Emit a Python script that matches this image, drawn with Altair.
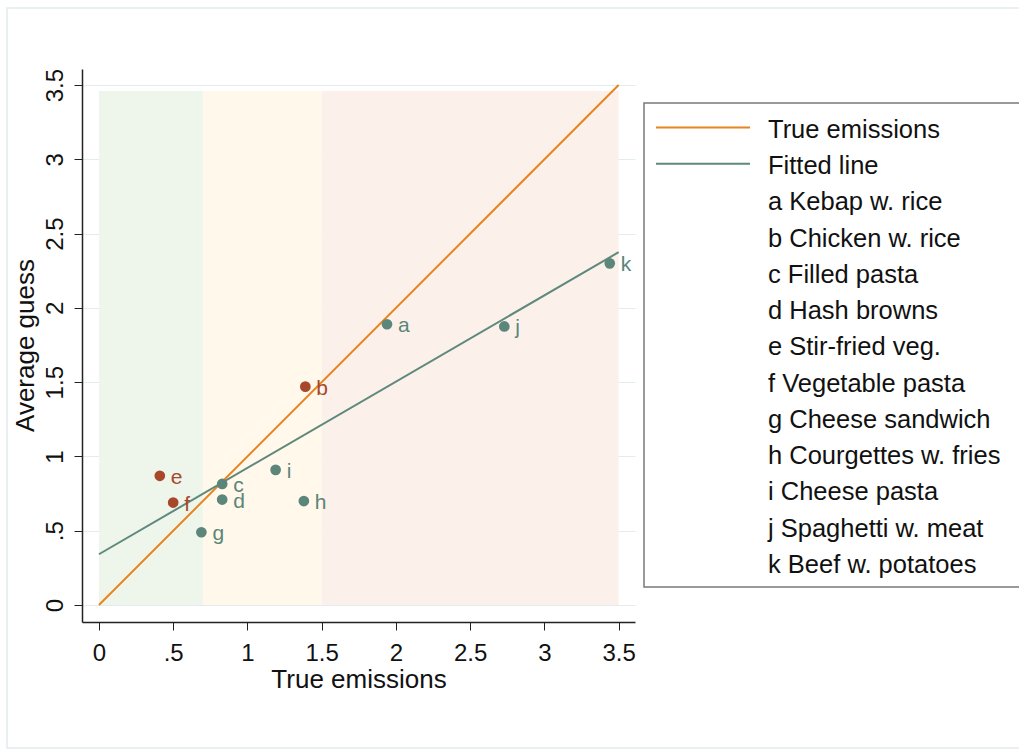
import altair as alt
import pandas as pd

# Dishes: letter code, name, true emissions (x) and average guess (y)
codes = ["a", "b", "c", "d", "e", "f", "g", "h", "i", "j", "k"]
dishes = [
    "Kebap w. rice", "Chicken w. rice", "Filled pasta", "Hash browns",
    "Stir-fried veg.", "Vegetable pasta", "Cheese sandwich",
    "Courgettes w. fries", "Cheese pasta", "Spaghetti w. meat",
    "Beef w. potatoes",
]
true_emissions = [1.94, 1.39, 0.83, 0.83, 0.41, 0.50, 0.69, 1.38, 1.19, 2.73, 3.44]
average_guess = [1.89, 1.47, 0.815, 0.71, 0.87, 0.69, 0.49, 0.70, 0.91, 1.875, 2.30]
overestimated = ["b", "e", "f"]

# Background zones on the emissions axis
zone_names = ["low", "medium", "high"]
zone_start = [0.0, 0.7, 1.5]
zone_end = [0.7, 1.5, 3.5]
zone_top = 3.46
zone_colors = ["#eef5eb", "#fff8eb", "#fbf1ea"]

# Reference line (guess = truth) and fitted regression line endpoints
line_x = [0.0, 3.5]
true_line_y = [0.0, 3.5]
fitted_line_y = [0.342, 2.375]

series_names = ["True emissions", "Fitted line"]
series_colors = ["#e8841e", "#5e897c"]
group_names = ["over", "other"]
group_colors = ["#a8482a", "#5b8679"]

ticks = [0, 0.5, 1, 1.5, 2, 2.5, 3, 3.5]

points = pd.DataFrame({
    "code": codes,
    "emissions": true_emissions,
    "guess": average_guess,
    "group": ["over" if c in overestimated else "other" for c in codes],
})
zones = pd.DataFrame({
    "zone": zone_names, "start": zone_start, "end": zone_end,
    "bottom": [0.0] * 3, "top": [zone_top] * 3,
})
lines = pd.DataFrame({
    "series": [series_names[0]] * 2 + [series_names[1]] * 2,
    "emissions": line_x + line_x,
    "guess": true_line_y + fitted_line_y,
})
legend_labels = series_names + [f"{c} {d}" for c, d in zip(codes, dishes)]
legend_rows = pd.DataFrame({"label": legend_labels, "row": list(range(len(legend_labels)))})
legend_lines = legend_rows.iloc[:2].assign(series=series_names)

FONT = "Liberation Sans"

x_scale = alt.Scale(domain=[-0.114, 3.61], nice=False, zero=False)
y_scale = alt.Scale(domain=[-0.114, 3.608], nice=False, zero=False)
label_expr = "datum.value == 0.5 ? '.5' : datum.label"

x_axis = alt.Axis(
    values=ticks, format="~g", labelExpr=label_expr, title="True emissions",
    grid=False, tickSize=8, labelPadding=11, labelFontSize=24,
    titleFontSize=26, titleBaseline="alphabetic", titleY=65,
)
y_axis = alt.Axis(
    values=ticks, format="~g", labelExpr=label_expr, title="Average guess",
    grid=True, gridColor="#e2ebf0", gridWidth=1,
    tickSize=8, labelPadding=7, labelFontSize=24,
    labelAngle=270, labelAlign="center", labelBaseline="bottom",
    titleFontSize=26, titleAngle=270, titleAlign="center",
    titleBaseline="alphabetic", titleX=-49, titleY=276,
)

X = lambda f: alt.X(f, type="quantitative", scale=x_scale, axis=x_axis)
Y = lambda f: alt.Y(f, type="quantitative", scale=y_scale, axis=y_axis)

zone_layer = alt.Chart(zones).mark_rect(strokeWidth=0).encode(
    x=X("start"), x2="end", y=Y("bottom"), y2="top",
    fill=alt.Fill("zone:N", scale=alt.Scale(domain=zone_names, range=zone_colors), legend=None),
)

line_layer = alt.Chart(lines).mark_line(strokeWidth=2).encode(
    x=X("emissions"), y=Y("guess"),
    stroke=alt.Stroke("series:N", scale=alt.Scale(domain=series_names, range=series_colors), legend=None),
)

point_color = alt.Color("group:N", scale=alt.Scale(domain=group_names, range=group_colors), legend=None)

point_layer = alt.Chart(points).mark_circle(size=115, opacity=1).encode(
    x=X("emissions"), y=Y("guess"), color=point_color,
)

label_layer = alt.Chart(points).mark_text(
    align="left", baseline="middle", dx=11, dy=2, fontSize=21, font=FONT,
).encode(x=X("emissions"), y=Y("guess"), text="code:N", color=point_color)

plot = alt.layer(zone_layer, line_layer, point_layer, label_layer)

# Key box to the right of the plot
row_y = alt.Y("row:Q", scale=alt.Scale(domain=[0, 12], range=[58.5, 493.5]), axis=None)

frame = alt.Chart(legend_rows.iloc[:1]).mark_rect(
    fill="transparent", stroke="#e4ebee", strokeWidth=1.5,
).encode(x=alt.value(-75), x2=alt.value(1000), y=alt.value(-61), y2=alt.value(679))

box = alt.Chart(legend_rows.iloc[:1]).mark_rect(
    fill="white", stroke="#7a7a7a", strokeWidth=1.5,
).encode(x=alt.value(562), x2=alt.value(1000), y=alt.value(34), y2=alt.value(518))

key_lines = alt.Chart(legend_lines).mark_rule(strokeWidth=2).encode(
    x=alt.value(574), x2=alt.value(668), y=row_y,
    stroke=alt.Stroke("series:N", scale=alt.Scale(domain=series_names, range=series_colors), legend=None),
)

key_text = alt.Chart(legend_rows).mark_text(
    align="left", baseline="middle", dy=2.3, fontSize=25.5, font=FONT, color="#111111",
).encode(x=alt.value(686), y=row_y, text="label:N")

key = alt.layer(frame, box, key_lines, key_text)

chart = (
    alt.layer(plot, key)
    .resolve_scale(y="independent")
    .properties(
        width=553, height=553,
        padding={"left": 82, "top": 69, "right": 384, "bottom": 129},
        autosize=alt.AutoSizeParams(type="none"),
        background="white",
    )
    .configure_view(stroke=None)
    .configure_axis(
        labelFont=FONT, titleFont=FONT, labelColor="#111111", titleColor="#111111",
        titleFontWeight="normal", domainColor="#222222", domainWidth=1.5,
        tickColor="#222222", tickWidth=1,
    )
)

chart.save("out.html", embed_options={"renderer": "svg", "actions": False})
